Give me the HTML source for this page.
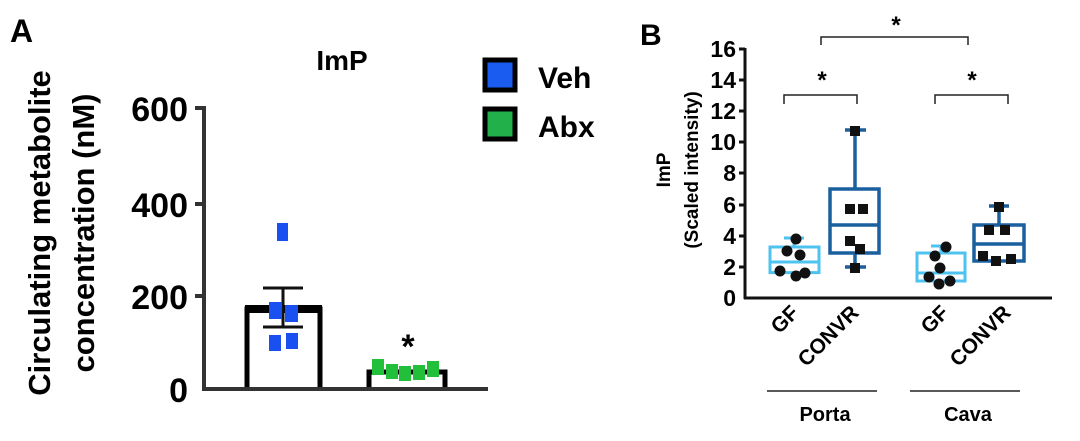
<!DOCTYPE html>
<html><head><meta charset="utf-8"><style>
html,body{margin:0;padding:0;background:#fff;}
svg{display:block;font-family:"Liberation Sans",Arial,sans-serif;font-weight:bold;}
</style></head><body>
<svg width="1080" height="441" viewBox="0 0 1080 441" xmlns="http://www.w3.org/2000/svg">
<!-- Panel A -->
<text x="10" y="42" font-size="32">A</text>
<text x="342" y="70" font-size="28" text-anchor="middle">ImP</text>
<g transform="translate(50,233) rotate(-90)"><text x="0" y="0" font-size="31" text-anchor="middle">Circulating metabolite</text></g>
<g transform="translate(94,233) rotate(-90)"><text x="0" y="0" font-size="31" text-anchor="middle">concentration (nM)</text></g>
<g stroke="#333" stroke-width="4" fill="none">
<line x1="204" y1="106" x2="204" y2="391"/>
<line x1="202" y1="389" x2="488" y2="389"/>
<line x1="195" y1="108" x2="204" y2="108"/>
<line x1="195" y1="204" x2="204" y2="204"/>
<line x1="195" y1="296" x2="204" y2="296"/>
</g>
<g font-size="34" text-anchor="end">
<text x="188" y="121">600</text><text x="188" y="217">400</text><text x="188" y="309">200</text><text x="188" y="402">0</text>
</g>
<path d="M247 387 V309 H320 V387" stroke="#000" stroke-width="5" fill="none"/>
<line x1="245" y1="309" x2="322" y2="309" stroke="#000" stroke-width="8"/>
<g stroke="#111" stroke-width="3"><line x1="283" y1="288" x2="283" y2="327"/><line x1="263" y1="288" x2="303" y2="288"/><line x1="263" y1="327" x2="303" y2="327"/></g>
<g fill="#1a4ff0">
<rect x="277" y="223" width="11" height="18"/>
<rect x="269" y="302" width="13" height="17"/><rect x="285" y="305" width="13" height="17"/>
<rect x="269" y="335" width="12" height="16"/><rect x="286" y="333" width="12" height="16"/>
</g>
<path d="M369 387 V372 H445 V387" stroke="#000" stroke-width="5" fill="none"/>
<g fill="#22c03a">
<rect x="372" y="359" width="12" height="16"/><rect x="386" y="364" width="12" height="15"/><rect x="399" y="366" width="12" height="15"/><rect x="413" y="365" width="12" height="15"/><rect x="427" y="361" width="12" height="16"/>
</g>
<text x="408" y="358" font-size="34" text-anchor="middle">*</text>
<rect x="485" y="60" width="30" height="30" fill="#1a5cf0" stroke="#000" stroke-width="5"/>
<rect x="485" y="109" width="30" height="30" fill="#22b04a" stroke="#000" stroke-width="5"/>
<text x="538" y="88" font-size="30">Veh</text>
<text x="538" y="137" font-size="30">Abx</text>

<!-- Panel B -->
<text x="640" y="45" font-size="30">B</text>
<g transform="translate(670,170) rotate(-90)"><text font-size="19" text-anchor="middle">ImP</text></g>
<g transform="translate(698,170) rotate(-90)"><text font-size="19" text-anchor="middle">(Scaled intensity)</text></g>
<g stroke="#111" stroke-width="3">
<line x1="745" y1="48" x2="745" y2="299"/>
<line x1="744" y1="298" x2="1052" y2="298"/>
<line x1="739" y1="49" x2="745" y2="49"/><line x1="739" y1="80" x2="745" y2="80"/><line x1="739" y1="111" x2="745" y2="111"/><line x1="739" y1="142" x2="745" y2="142"/><line x1="739" y1="173" x2="745" y2="173"/><line x1="739" y1="205" x2="745" y2="205"/><line x1="739" y1="236" x2="745" y2="236"/><line x1="739" y1="267" x2="745" y2="267"/>
</g>
<g font-size="23" text-anchor="end">
<text x="736" y="57">16</text><text x="736" y="88">14</text><text x="736" y="119">12</text><text x="736" y="150">10</text><text x="736" y="181">8</text><text x="736" y="213">6</text><text x="736" y="244">4</text><text x="736" y="275">2</text><text x="736" y="306">0</text>
</g>
<g fill="none" stroke="#4ec3f0" stroke-width="3">
<rect x="770" y="247" width="49" height="25.6"/><line x1="770" y1="262" x2="819" y2="262"/>
<line x1="794" y1="238" x2="794" y2="247"/><line x1="784" y1="238" x2="804" y2="238"/>
<rect x="917" y="253" width="48" height="28"/><line x1="917" y1="273" x2="965" y2="273"/>
<line x1="941" y1="246" x2="941" y2="253"/><line x1="931" y1="246" x2="951" y2="246"/>
</g>
<g fill="none" stroke="#1a5f9e" stroke-width="3.5">
<rect x="830" y="189" width="49" height="64"/><line x1="830" y1="225" x2="879" y2="225"/>
<line x1="855" y1="130" x2="855" y2="189"/><line x1="845" y1="130" x2="866" y2="130"/>
<line x1="855" y1="253" x2="855" y2="267"/><line x1="845" y1="267" x2="866" y2="267"/>
<rect x="974" y="225" width="50" height="36"/><line x1="974" y1="244" x2="1024" y2="244"/>
<line x1="999" y1="206" x2="999" y2="225"/><line x1="989" y1="206" x2="1009" y2="206"/>
</g>
<g fill="#111">
<circle cx="796" cy="239" r="5.5"/><circle cx="787" cy="251" r="5.5"/><circle cx="800" cy="255" r="5.5"/><circle cx="780" cy="271" r="5.5"/><circle cx="796" cy="276" r="5.5"/><circle cx="805" cy="273" r="5.5"/>
<circle cx="946" cy="247" r="5.5"/><circle cx="935" cy="256" r="5.5"/><circle cx="940" cy="268" r="5.5"/><circle cx="929" cy="277" r="5.5"/><circle cx="939" cy="284" r="5.5"/><circle cx="950" cy="281" r="5.5"/>
<rect x="850" y="126" width="10" height="10"/><rect x="845" y="204" width="10" height="10"/><rect x="858" y="204" width="10" height="10"/><rect x="845" y="236" width="10" height="10"/><rect x="855" y="244" width="10" height="10"/><rect x="850" y="263" width="10" height="10"/>
<rect x="994" y="202" width="10" height="10"/><rect x="984" y="225" width="10" height="10"/><rect x="1000" y="225" width="10" height="10"/><rect x="978" y="251" width="10" height="10"/><rect x="991" y="256" width="10" height="10"/><rect x="1006" y="254" width="10" height="10"/>
</g>
<g fill="none" stroke="#222" stroke-width="1.5">
<path d="M784 104 V95 H857 V104"/>
<path d="M935 104 V95 H1008 V104"/>
<path d="M821 45 V37 H968 V45"/>
</g>
<g font-size="24" text-anchor="middle">
<text x="822" y="88">*</text><text x="972" y="88">*</text><text x="896" y="33">*</text>
</g>
<g font-size="21" text-anchor="end">
<text transform="translate(800,314) rotate(-45)">GF</text>
<text transform="translate(860,314) rotate(-45)">CONVR</text>
<text transform="translate(950,314) rotate(-45)">GF</text>
<text transform="translate(1012,314) rotate(-45)">CONVR</text>
</g>
<g stroke="#222" stroke-width="1.5"><line x1="767" y1="391" x2="877" y2="391"/><line x1="910" y1="391" x2="1020" y2="391"/></g>
<g font-size="20" text-anchor="middle"><text x="825" y="421">Porta</text><text x="968" y="421">Cava</text></g>
</svg>
</body></html>
